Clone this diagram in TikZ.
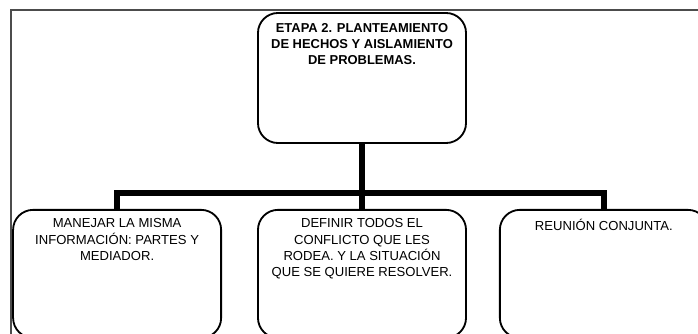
\documentclass[tikz,border=0pt]{standalone}
\usepackage{fontspec}
\setmainfont{Liberation Sans}
\usetikzlibrary{positioning}

\newcommand{\cajatexto}[1]{\parbox[c][2.75cm][t]{4.9cm}{\centering #1}}

\begin{document}
\begin{tikzpicture}[x=0.025cm, y=-0.025cm,
    caja/.style={draw, line width=1.3pt, rounded corners=0.5cm,
        minimum width=5.2cm, minimum height=3.2cm, inner xsep=0.15cm, inner ysep=0.225cm,
        font=\fontsize{9.3}{11.4}\selectfont},
    conector/.style={line width=4pt}]
    \useasboundingbox (0,0) rectangle (698,334);
    \clip (0,0) rectangle (698,334);
    % marco exterior
    \draw[gray!60!black, line width=0.9pt] (11,345) -- (11,10) -- (710,10);
    % etapa
    \node[caja, minimum height=3.25cm, font=\bfseries\fontsize{9.2}{11.6}\selectfont] (etapa) at (362,78)
        {\cajatexto{ETAPA 2. PLANTEAMIENTO\\ DE HECHOS Y AISLAMIENTO\\ DE PROBLEMAS.}};
    \node[caja, below=1.625cm of etapa] (definir)
        {\cajatexto{DEFINIR TODOS EL\\ CONFLICTO QUE LES\\ RODEA. Y LA SITUACI\'ON\\ QUE SE QUIERE RESOLVER.}};
    \node[caja, left=0.875cm of definir] (manejar)
        {\cajatexto{MANEJAR LA MISMA\\ INFORMACI\'ON: PARTES Y\\ MEDIADOR.}};
    \node[caja, right=0.8cm of definir] (reunion)
        {\cajatexto{REUNI\'ON CONJUNTA.}};
    % conectores
    \draw[conector] (etapa.south) -- (definir.north);
    \draw[conector] (manejar.north) -- ++(0,-16) -| (reunion.north);
\end{tikzpicture}
\end{document}
